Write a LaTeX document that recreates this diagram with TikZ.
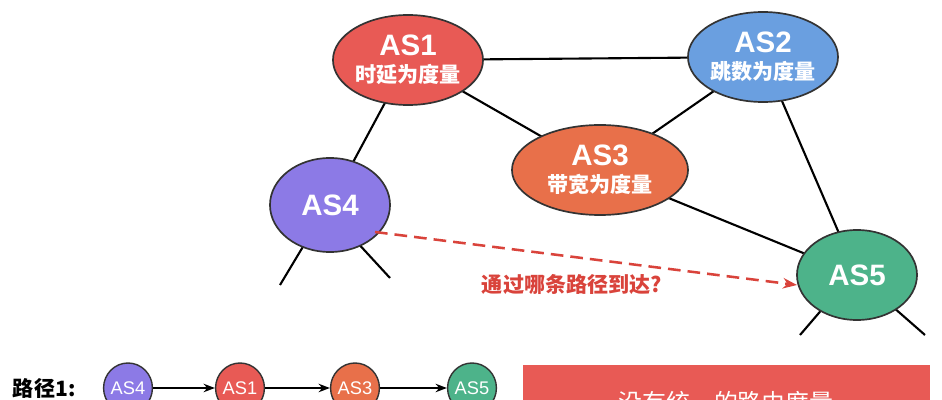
\documentclass[tikz,border=0pt]{standalone}
\usepackage{fontspec}
\setmainfont{Liberation Sans}
\newfontfamily\cjk{Noto Sans CJK SC}
\usetikzlibrary{arrows.meta,shapes.geometric}
\definecolor{asred}{HTML}{E85A55}
\definecolor{asblue}{HTML}{6A9FE0}
\definecolor{asorange}{HTML}{E8704A}
\definecolor{aspurple}{HTML}{8C7AE6}
\definecolor{asgreen}{HTML}{4DB38A}
\definecolor{dashred}{HTML}{D9433B}
\begin{document}
\begin{tikzpicture}[x=0.025cm,y=-0.025cm,
  asnode/.style={ellipse, draw=black!80, line width=1.2pt, text=white, align=center, inner sep=0pt, font=\bfseries},
  mini/.style={ellipse, draw=black!80, line width=1pt, text=white, minimum width=1.1cm, minimum height=1.25cm, inner sep=0pt, font=\fontsize{13}{15}\selectfont},
  link/.style={line width=1.5pt}]

\path [use as bounding box] (0,0) rectangle (942,400);

% TOP GRAPH
\draw [link] (408,60) -- (763,57);
\draw [link] (408,60) -- (600,170);
\draw [link] (600,170) -- (763,57);
\draw [link] (600,170) -- (857,275);
\draw [link] (408,60) -- (330,205);
\draw [link] (763,57) -- (857,275);
\draw [link] (310,235) -- (280,285);
\draw [link] (355,240) -- (390,278);
\draw [link] (830,300) -- (800,335);
\draw [link] (885,300) -- (925,335);

\node [asnode, fill=asred, minimum width=3.75cm, minimum height=2.25cm] (as1) at (408,60) {\fontsize{21}{23}\selectfont AS1\\[5pt]\cjk\fontsize{15}{17}\selectfont 时延为度量};
\node [asnode, fill=asblue, minimum width=3.75cm, minimum height=2.25cm] (as2) at (763,57) {\fontsize{21}{23}\selectfont AS2\\[5pt]\cjk\fontsize{15}{17}\selectfont 跳数为度量};
\node [asnode, fill=asorange, minimum width=4.4cm, minimum height=2.25cm] (as3) at (600,170) {\fontsize{21}{23}\selectfont AS3\\[5pt]\cjk\fontsize{15}{17}\selectfont 带宽为度量};
\node [asnode, fill=aspurple, minimum width=3cm, minimum height=2.35cm] (as4) at (330,205) {\fontsize{21}{23}\selectfont AS4};
\node [asnode, fill=asgreen, minimum width=3cm, minimum height=2.25cm] (as5) at (857,275) {\fontsize{21}{23}\selectfont AS5};

\coordinate (d1) at (375,232);
\coordinate (d2) at (797,285);
\draw [dashred, line width=1.8pt, dash pattern=on 9pt off 5pt, -{Stealth[length=10pt]}] (d1) -- (d2);
\node [text=dashred, font=\cjk\bfseries\fontsize{15}{17}\selectfont] (q) at (572,285) {通过哪条路径到达?};

% PATH 1
\node [font=\cjk\bfseries\fontsize{15}{17}\selectfont, anchor=west] (lbl) at (8,388) {路径1:};
\node [mini, fill=aspurple] (p4) at (128,388) {AS4};
\node [mini, fill=asred] (p1) at (240,388) {AS1};
\node [mini, fill=asorange] (p3) at (355,388) {AS3};
\node [mini, fill=asgreen] (p5) at (472,388) {AS5};
\draw [line width=1.5pt, -{Stealth[length=8pt]}] (p4) -- (p1);
\draw [line width=1.5pt, -{Stealth[length=8pt]}] (p1) -- (p3);
\draw [line width=1.5pt, -{Stealth[length=8pt]}] (p3) -- (p5);

% BOX
\fill [asred] (523,365) rectangle (930,420);
\node [text=white, font=\cjk\fontsize{17}{19}\selectfont] (note) at (726,402) {没有统一的路由度量};

\end{tikzpicture}
\end{document}
